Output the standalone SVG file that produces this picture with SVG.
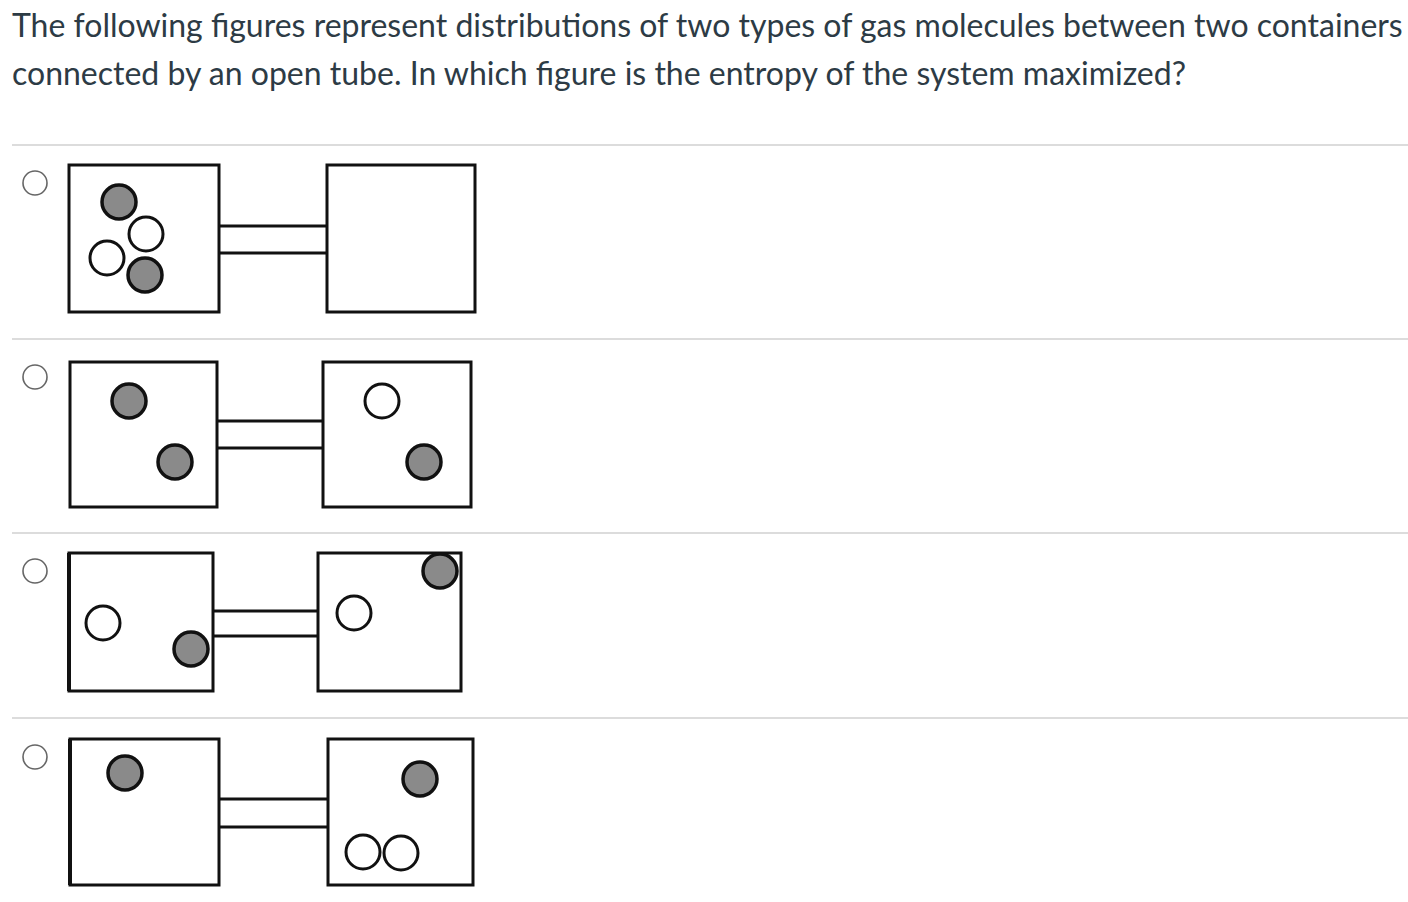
<svg xmlns="http://www.w3.org/2000/svg" width="1408" height="902" viewBox="0 0 1408 902">
<style>
.q{font-family:Lato,"Open Sans","Liberation Sans",sans-serif;font-size:32px;fill:#2d3b45}
.sep{stroke:#d0d0d0;stroke-width:1.5}
.radio{fill:#fff;stroke:#666;stroke-width:1.6}
.box{fill:#fff;stroke:#111;stroke-width:3}
.tube{stroke:#111;stroke-width:3}
.g{fill:#8a8a8a;stroke:#111;stroke-width:3.5}
.w{fill:#fff;stroke:#111;stroke-width:3}
</style>
<rect width="1408" height="902" fill="#fff"/>
<g id="question">
<text class="q" x="12" y="36.5">The following figures represent distributions of two types of gas molecules between two containers</text>
<text class="q" x="12" y="85">connected by an open tube. In which figure is the entropy of the system maximized?</text>
</g>
<g id="separators">
<line class="sep" x1="12" y1="145" x2="1408" y2="145"/>
<line class="sep" x1="12" y1="339" x2="1408" y2="339"/>
<line class="sep" x1="12" y1="533" x2="1408" y2="533"/>
<line class="sep" x1="12" y1="718" x2="1408" y2="718"/>
</g>
<g id="option1">
<circle class="radio" cx="35" cy="183" r="12"/>
<line class="tube" x1="219" y1="226" x2="327" y2="226"/>
<line class="tube" x1="219" y1="253" x2="327" y2="253"/>
<rect class="box" x="69" y="165" width="150" height="147"/>
<rect class="box" x="327" y="165" width="148" height="147"/>
<circle class="g" cx="119" cy="202" r="17"/>
<circle class="w" cx="146" cy="234" r="17"/>
<circle class="w" cx="107" cy="258" r="17"/>
<circle class="g" cx="145" cy="275" r="17"/>
</g>
<g id="option2">
<circle class="radio" cx="35" cy="377" r="12"/>
<line class="tube" x1="217" y1="421" x2="323" y2="421"/>
<line class="tube" x1="217" y1="448" x2="323" y2="448"/>
<rect class="box" x="70" y="362" width="147" height="145"/>
<rect class="box" x="323" y="362" width="148" height="145"/>
<circle class="g" cx="129" cy="401" r="17"/>
<circle class="g" cx="175" cy="462" r="17"/>
<circle class="w" cx="382" cy="401" r="17"/>
<circle class="g" cx="424" cy="462" r="17"/>
</g>
<g id="option3">
<circle class="radio" cx="35" cy="571" r="12"/>
<line class="tube" x1="213" y1="611" x2="318" y2="611"/>
<line class="tube" x1="213" y1="636" x2="318" y2="636"/>
<rect class="box" x="69" y="553" width="144" height="138"/>
<line x1="69" y1="553" x2="69" y2="691" stroke="#111" stroke-width="4"/>
<rect class="box" x="318" y="553" width="143" height="138"/>
<circle class="w" cx="103" cy="623" r="17"/>
<circle class="g" cx="191" cy="649" r="17"/>
<circle class="w" cx="354" cy="613" r="17"/>
<circle class="g" cx="440" cy="571" r="17"/>
</g>
<g id="option4">
<circle class="radio" cx="35" cy="757" r="12"/>
<line class="tube" x1="219" y1="799" x2="328" y2="799"/>
<line class="tube" x1="219" y1="827" x2="328" y2="827"/>
<rect class="box" x="70" y="739" width="149" height="146"/>
<line x1="70" y1="739" x2="70" y2="885" stroke="#111" stroke-width="4"/>
<rect class="box" x="328" y="739" width="145" height="146"/>
<circle class="g" cx="125" cy="773" r="17"/>
<circle class="g" cx="420" cy="779" r="17"/>
<circle class="w" cx="363" cy="852" r="17"/>
<circle class="w" cx="401" cy="853" r="17"/>
</g>
</svg>
